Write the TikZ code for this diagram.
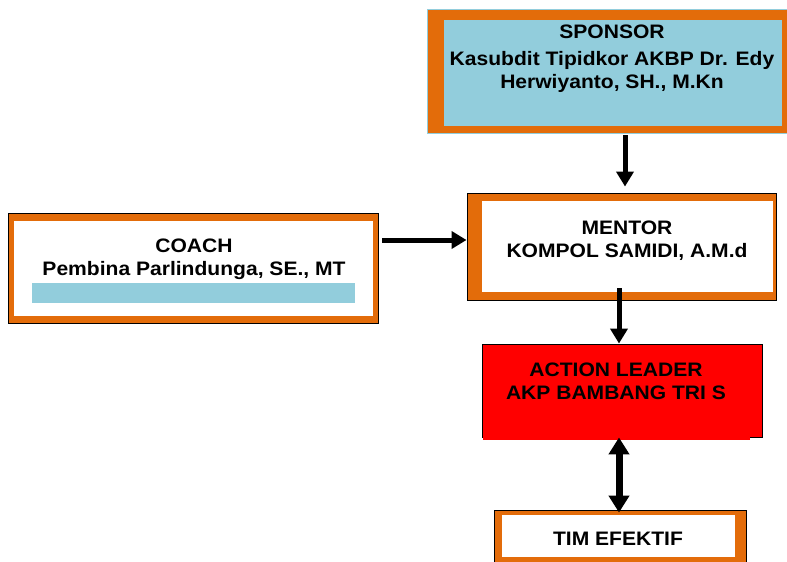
\documentclass[tikz,border=0pt]{standalone}
\usepackage{fontspec}
\setmainfont{Liberation Sans}[FakeStretch=1.08]
\usetikzlibrary{arrows.meta,calc}
\definecolor{frameorange}{HTML}{E36C0A}
\definecolor{skyblue}{HTML}{92CDDC}
\definecolor{boxred}{HTML}{FF0000}
\tikzset{
  framebox/.style={draw=black, line width=0.9pt, fill=frameorange, inner sep=0pt},
  lbl/.style={font=\bfseries\fontsize{19.5}{23}\selectfont, align=center, inner sep=0pt, anchor=north, text=black},
  conn/.style={line width=5pt, -{Triangle[length=15pt,width=17pt]}},
  dconn/.style={line width=7pt, {Triangle[length=17pt,width=20pt]}-{Triangle[length=17pt,width=20pt]}}
}
\begin{document}
\begin{tikzpicture}[x=1pt,y=-1pt]
\clip (0,0) rectangle (787,562);
\fill[white] (0,0) rectangle (787,562);
% SPONSOR
\node[framebox, draw=skyblue, minimum width=363pt, minimum height=124pt] (sponsor) at (608.5,71) {};
\fill[skyblue] (444,20) rectangle (782,126);
\node[lbl] (sponsortext) at (612,25) {SPONSOR\\[4pt]Kasubdit Tipidkor AKBP Dr. Edy\\Herwiyanto, SH., M.Kn};
% COACH
\node[framebox, minimum width=370pt, minimum height=110pt] (coach) at (193,268) {};
\fill[white] (14,221) rectangle (373,316);
\fill[skyblue] (32,283) rectangle (355,303);
\node[lbl] (coachtext) at (194,239) {COACH\\Pembina Parlindunga, SE., MT};
% MENTOR
\node[framebox, minimum width=309pt, minimum height=107pt] (mentor) at (621.5,246.5) {};
\fill[white] (482,201) rectangle (773,292);
\node[lbl] (mentortext) at (627,221) {MENTOR\\KOMPOL SAMIDI, A.M.d};
% ACTION LEADER
\node[draw=black, line width=0.9pt, fill=boxred, inner sep=0pt, minimum width=280pt, minimum height=93pt] (action) at (622,390.5) {};
\fill[boxred] (483,420) rectangle (750,440);
\node[lbl] (actiontext) at (616,363) {ACTION LEADER\\AKP BAMBANG TRI S};
% TIM EFEKTIF
\node[framebox, minimum width=252pt, minimum height=60pt] (tim) at (620,540) {};
\fill[white] (502,515) rectangle (735,557);
\begin{scope}
\clip (502,515) rectangle (735,544.5);
\node[lbl] (timtext) at (618,532) {TIM EFEKTIF};
\end{scope}
\fill[frameorange] (502,557) rectangle (735,566);
% connectors
\draw[conn] ($(sponsor.south)+(16.5,2)$) -- ($(mentor.north)+(3.5,-6)$);
\draw[conn] ($(coach.east)+(4,-28)$) -- ($(mentor.west)+(0,-6.5)$);
\draw[conn] ($(mentor.south)+(-2.5,-12)$) -- ($(action.north)+(-3,0)$);
\draw[dconn] ($(action.south)+(-3,0)$) -- ($(tim.north)+(-1,3)$);
\end{tikzpicture}
\end{document}
